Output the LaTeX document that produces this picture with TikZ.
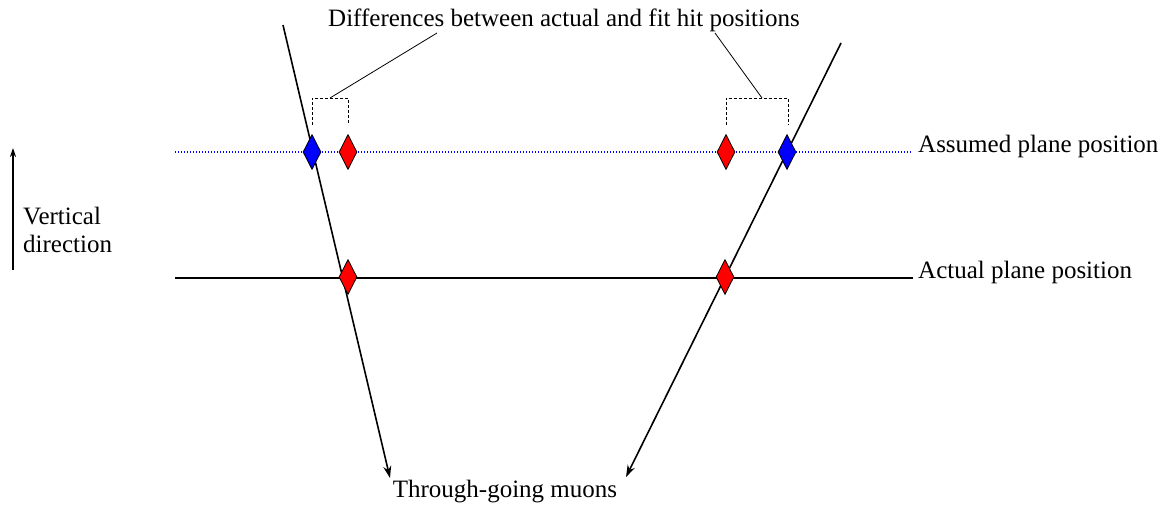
\documentclass[tikz,border=0pt]{standalone}
\usepackage{fontspec}
\setmainfont{Liberation Serif}
\usetikzlibrary{shapes.geometric,arrows.meta}
\begin{document}
\begin{tikzpicture}[x=1pt,y=-1pt,
  lbl/.style={font=\fontsize{25}{29}\selectfont, inner sep=0pt},
  hit/.style={draw=black, line width=0.8pt, shape=diamond, aspect=0.514,
    minimum width=18pt, minimum height=35pt, inner sep=0pt},
  fithit/.style={hit, fill=red},
  realhit/.style={hit, fill=blue},
  muon/.style={line width=1.6pt, -{Stealth[length=12pt,width=8pt]}},
  bracketline/.style={line width=0.8pt, dash pattern=on 3pt off 2pt},
  leader/.style={line width=0.8pt},
  assumed/.style={draw=blue, line width=1.6pt, dash pattern=on 1.3pt off 1.7pt},
  actual/.style={line width=1.4pt}
]
\useasboundingbox (0,0) rectangle (1167,506);

% texts
\node[lbl, anchor=base] (title) at (564,26) {Differences between actual and fit hit positions};
\node[lbl, anchor=base west] (assumedlbl) at (918,152) {Assumed plane position};
\node[lbl, anchor=base west] (actuallbl) at (918,278) {Actual plane position};
\node[lbl, anchor=base west, align=left] (vertlbl) at (23,224) {Vertical};
\node[lbl, anchor=base west] (vertlbl2) at (23,252) {direction};
\node[lbl, anchor=base] (muonlbl) at (505,497) {Through-going muons};

% plane lines
\coordinate (aL) at (175,152);
\coordinate (aR) at (912,152);
\coordinate (pL) at (175,278);
\coordinate (pR) at (913,278);
\draw[assumed] (aL) -- (aR);
\draw[actual] (pL) -- (pR);

% vertical direction arrow
\coordinate (v0) at (13,270);
\coordinate (v1) at (13,148);
\draw[line width=1.2pt, -{Stealth[length=9pt,width=6pt]}] (v0) -- (v1);

% muon tracks
\coordinate (m1a) at (283,25);
\coordinate (m1b) at (390,478);
\coordinate (m2a) at (841,43);
\coordinate (m2b) at (626,477);
\draw[muon] (m1a) -- (m1b);
\draw[muon] (m2a) -- (m2b);

% brackets and leaders
\coordinate (b1a) at (312,125);
\coordinate (b1b) at (312,98);
\coordinate (b1c) at (348,98);
\coordinate (b1d) at (348,125);
\coordinate (b1m) at (330,98);
\coordinate (t1) at (437,33);
\draw[bracketline] (b1a) -- (b1b) -- (b1c) -- (b1d);
\draw[leader] (b1m) -- (t1);
\coordinate (b2a) at (726,125);
\coordinate (b2b) at (726,98);
\coordinate (b2c) at (788,98);
\coordinate (b2d) at (788,125);
\coordinate (b2m) at (762,98);
\coordinate (t2) at (715,33);
\draw[bracketline] (b2a) -- (b2b) -- (b2c) -- (b2d);
\draw[leader] (b2m) -- (t2);

% hits
\node[realhit] (h1) at (312,152) {};
\node[fithit] (h2) at (348,152) {};
\node[fithit] (h3) at (726,152) {};
\node[realhit] (h4) at (787,152) {};
\node[fithit] (h5) at (348,277) {};
\node[fithit] (h6) at (725,277) {};
\end{tikzpicture}
\end{document}
